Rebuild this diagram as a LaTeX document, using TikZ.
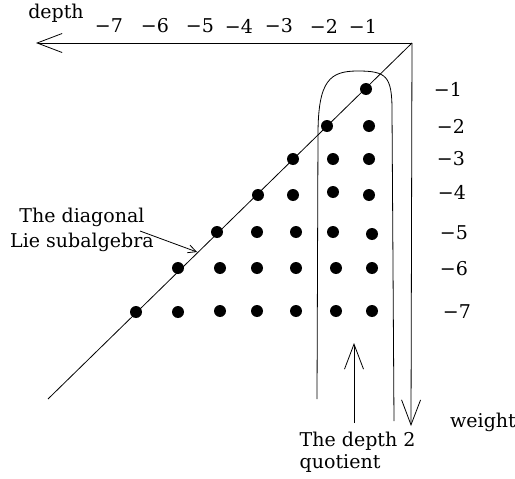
\documentclass[tikz,border=0pt]{standalone}
\usepackage{fontspec}
\setmainfont{DejaVu Serif}
\usetikzlibrary{arrows.meta}

\begin{document}
\begin{tikzpicture}[x=1pt,y=-1pt,line width=0.8pt,
  every node/.style={font=\fontsize{19}{22}\selectfont},
  bigtip/.style={-{Straight Barb[length=25pt,width=19pt]}},
  smalltip/.style={-{Straight Barb[length=8pt,width=8pt]}}]
\useasboundingbox (0,0) rectangle (515,479);
% Axes and diagonal
\coordinate (corner) at (412,43);
\coordinate (depthend) at (36,43);
\coordinate (weightend) at (411,426);
\coordinate (diagend) at (48,399);
\draw[bigtip] (corner) -- (depthend);
\draw[bigtip] (corner) -- (weightend);
\draw (corner) -- (diagend);
% Axis labels
\node (depth) at (56,13) {depth};
\node (weight) at (483,422) {weight};
\foreach \x/\n in {109/7, 155/6, 200/5, 239/4, 279/3, 324/2, 363/1} {
    \node (top\n) at (\x,26) {−\n};
}
\foreach \x/\y/\n in {448/89/1, 451/126/2, 451/159/3, 452/192/4, 454/233/5, 454/269/6, 457/312/7} {
    \node (side\n) at (\x,\y) {−\n};
}
% Dots
\foreach \x/\y in {366/89,
    327/126, 369/126,
    293/159, 333/159, 369/159,
    258/195, 293/195, 333/192, 369/195,
    217/232, 257/232, 296/232, 333/232, 372/234,
    178/268, 220/268, 257/268, 296/268, 336/268, 372/268,
    136/312, 178/312, 220/311, 257/311, 296/311, 336/311, 372/311} {
    \fill (\x,\y) circle (6pt);
}
% Depth 2 quotient
\draw (317,399) -- (318,135) .. controls (318,80) and (330,71) .. (358,71)
    .. controls (386,71) and (392,76) .. (392,110) -- (394,421);
\coordinate (qfoot) at (354,423);
\coordinate (qtip) at (354,343);
\draw[bigtip] (qfoot) -- (qtip);
\node[align=left, anchor=west] (quot) at (296,452) {The depth 2\\quotient};
% Diagonal subalgebra
\node[align=center, font=\fontsize{19}{25}\selectfont] (diag) at (82,230) {The diagonal\\Lie subalgebra};
\coordinate (dfoot) at (140,231);
\coordinate (dtip) at (197,252);
\draw[smalltip] (dfoot) -- (dtip);
\end{tikzpicture}
\end{document}
